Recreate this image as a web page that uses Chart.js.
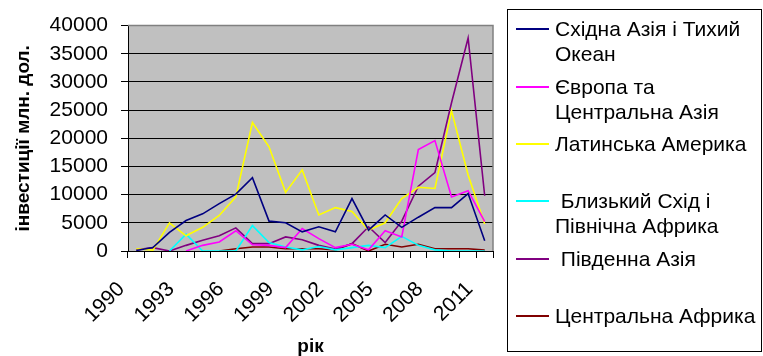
<!DOCTYPE html>
<html>
<head>
<meta charset="utf-8">
<script src="https://cdn.jsdelivr.net/npm/chart.js@4.4.1/dist/chart.umd.min.js"></script>
<style>
  html, body { margin: 0; padding: 0; background: #ffffff; }
  #wrap { position: relative; width: 763px; height: 356px; }
  #legend { position: absolute; left: 507px; top: 9px; width: 255px; height: 343px; border: 1px solid #000; box-sizing: border-box; font-family: "Liberation Sans", Arial, sans-serif; font-size: 21px; color: #000; }
  .item { position: absolute; left: 0; }
  .swatch { position: absolute; left: 8px; width: 33px; height: 2px; }
  .txt { position: absolute; left: 47px; white-space: pre; line-height: 25px; }
</style>
</head>
<body>
<div id="wrap">
  <canvas id="c" width="763" height="356"></canvas>
  <div id="legend"></div>
</div>
<script>
const years = ['1990','1991','1992','1993','1994','1995','1996','1997','1998','1999','2000','2001','2002','2003','2004','2005','2006','2007','2008','2009','2010','2011'];

const seriesNames = [
  'Східна Азія і Тихий\nОкеан',
  'Європа та\nЦентральна Азія',
  'Латинська Америка',
  ' Близький Схід і\nПівнічна Африка',
  ' Південна Азія',
  'Центральна Африка'
];
const seriesColors = ['#000080', '#FF00FF', '#FFFF00', '#00FFFF', '#800080', '#800000'];

const eastAsia     = [100, 600, 3300, 5400, 6600, 8400, 10100, 13000, 5300, 5000, 3400, 4300, 3400, 9300, 3700, 6400, 4200, 6000, 7700, 7700, 10200, 1800];
const europeCA     = [null, null, null, 0, 1000, 1600, 3600, 1100, 1000, 600, 4000, 2200, 600, 1200, 200, 3600, 2500, 18000, 19600, 9600, 10700, 5200];
const latinAmerica = [400, 150, 5000, 2700, 4200, 6300, 9600, 22800, 18500, 10400, 14400, 6400, 7700, 7000, 3700, 5000, 9300, 11300, 11100, 24900, 13500, 4800];
const middleEastNA = [null, null, 0, 3000, 0, 0, 0, 4500, 1500, 700, 200, 800, 200, 600, 1000, 600, 2600, 1000, 200, 0, 0, 0];
const southAsia    = [200, 600, 0, 1000, 1900, 2700, 4100, 1300, 1300, 2500, 2000, 1000, 350, 1300, 4300, 1500, 5300, 11500, 13900, 26300, 37800, 9800];
const centralAfrica= [null, null, null, null, null, 0, 400, 700, 700, 400, 400, 400, 200, 1300, 0, 1200, 700, 1200, 400, 400, 400, 150];

const seriesValues = [eastAsia, europeCA, latinAmerica, middleEastNA, southAsia, centralAfrica];

const yTitle = 'інвестиції млн. дол.';
const xTitle = 'рік';

// legend (HTML text)
const legendLineY = [18, 76, 133, 190, 248, 305]; // relative to legend box
const legend = document.getElementById('legend');
seriesNames.forEach((name, i) => {
  const it = document.createElement('div');
  it.className = 'item';
  it.style.top = legendLineY[i] + 'px';
  const sw = document.createElement('div');
  sw.className = 'swatch';
  sw.style.background = seriesColors[i];
  sw.style.top = '0px';
  const tx = document.createElement('div');
  tx.className = 'txt';
  tx.style.top = '-12px';
  tx.textContent = name;
  it.appendChild(sw); it.appendChild(tx);
  legend.appendChild(it);
});

const bgPlugin = {
  id: 'bg',
  beforeDraw(chart) {
    const a = chart.chartArea, ctx = chart.ctx;
    ctx.save();
    ctx.fillStyle = '#C0C0C0';
    ctx.fillRect(a.left, a.top, a.right - a.left, a.bottom - a.top);
    ctx.restore();
  },
  afterDraw(chart) {
    const a = chart.chartArea, ctx = chart.ctx;
    ctx.save();
    ctx.strokeStyle = '#808080';
    ctx.lineWidth = 1.5;
    ctx.beginPath();
    ctx.moveTo(a.left, a.top);
    ctx.lineTo(a.right, a.top);
    ctx.lineTo(a.right, a.bottom);
    ctx.stroke();
    ctx.restore();
  }
};

const font = { family: '"Liberation Sans", Arial, sans-serif', size: 21 };

new Chart(document.getElementById('c'), {
  type: 'line',
  data: {
    labels: years,
    datasets: seriesValues.map((vals, i) => ({
      label: seriesNames[i].replace('\n', ' ').trim(),
      data: vals,
      borderColor: seriesColors[i],
      backgroundColor: seriesColors[i],
      borderWidth: 1.6,
      pointRadius: 0,
      tension: 0,
      fill: false
    }))
  },
  options: {
    responsive: false,
    animation: false,
    devicePixelRatio: 1,
    layout: { padding: { left: 0, right: 270, top: 17, bottom: 0 } },
    plugins: { legend: { display: false }, tooltip: { enabled: false } },
    scales: {
      x: {
        offset: true,
        grid: { offset: true, drawOnChartArea: false, drawTicks: true, tickLength: 7, color: '#000', tickColor: '#000' },
        border: { color: '#000', width: 1 },
        ticks: {
          autoSkip: false, maxRotation: 45, minRotation: 45, color: '#000', font: font, padding: 19, labelOffset: -15,
          callback: function(v, i) { return i % 3 === 0 ? this.getLabelForValue(v) : ''; }
        },
        title: { display: true, text: xTitle, color: '#000', font: { family: font.family, size: 19, weight: 'bold' }, padding: { top: 0, bottom: -2 } },
        afterFit(scale) { scale.height = 105; }
      },
      y: {
        min: 0, max: 40000,
        grid: { color: '#000', lineWidth: 1, drawTicks: true, tickLength: 7, tickColor: '#000' },
        border: { color: '#000', width: 1 },
        ticks: { stepSize: 5000, autoSkip: false, color: '#000', font: font, padding: 13, callback: (v) => String(v) },
        title: { display: true, text: yTitle, color: '#000', font: { family: font.family, size: 19, weight: 'bold' }, padding: { top: 12, bottom: 0 } },
        afterFit(scale) { scale.width = 128; }
      }
    }
  },
  plugins: [bgPlugin]
});
</script>
</body>
</html>
